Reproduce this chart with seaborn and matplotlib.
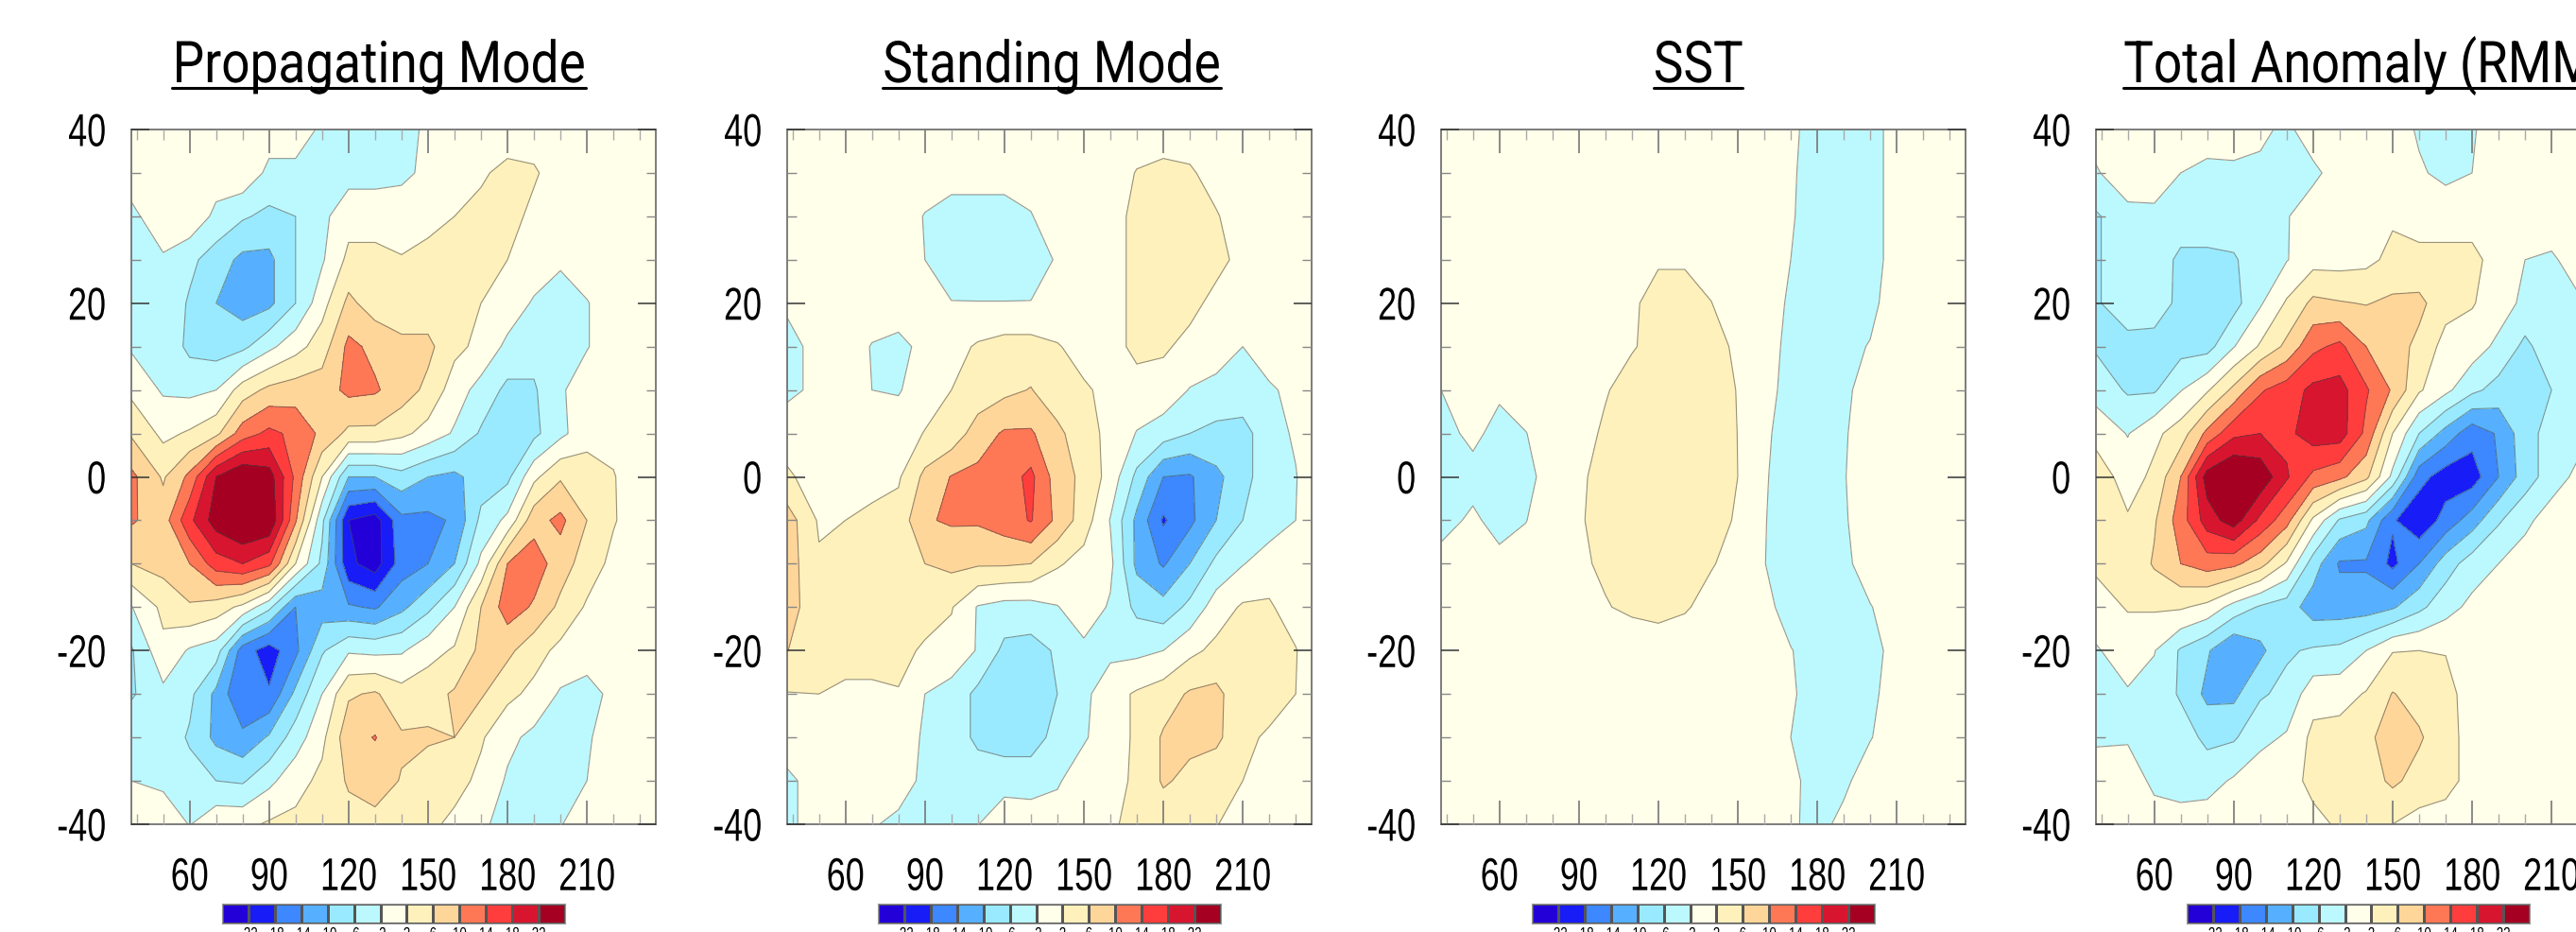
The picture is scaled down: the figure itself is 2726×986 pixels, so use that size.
import matplotlib
matplotlib.use("Agg")
import matplotlib.pyplot as plt
import matplotlib.patheffects as pe
from matplotlib.lines import Line2D
from matplotlib.transforms import Affine2D
import numpy as np
import seaborn as sns

# grid of the fields
LON = [38, 50, 60, 70, 80, 90, 100, 110, 120, 130, 140, 150, 160, 170, 180, 190, 200, 210, 220, 230, 236]
LAT = [40, 35, 30, 25, 20, 15, 10, 5, 0, -5, -10, -15, -20, -25, -30, -35, -40]

PROPAGATING = [
    [0, 0, 0, 0, 0, 0, 1, -3, -3, -3, -3, -1.5, 0, 0, 0, 0, 0, 0, 0, 0, 0],
    [0, 0, 0, 0, 1, -3, -3.5, -3.5, -3.5, -3.5, -3, -1, 1, 1.5, 3, 2.5, 0, 0, 0, 0, 0],
    [-3, 0.5, 1, -3, -5.5, -7, -6, -3, 0.5, 0.5, 0.5, 1, 2, 3, 3.5, 1, 0, 0, 0, 0, 0],
    [-3, -2.5, -5, -8, -11, -11, -6, -2.5, 3, 3, 2.2, 3, 3.5, 3.5, 2, 0.5, -1.5, 0, 0, 0, 0],
    [-3, -3, -6.5, -10, -12, -11, -6, 0.5, 7, 4, 3.5, 3.5, 3, 2, 0.5, -2.5, -3.5, -2.2, 0, 0, 0],
    [-2.5, -3, -7, -8, -7, -3, 0.5, 4, 11, 9, 7, 7, 3, 1, -3, -4.5, -4, -2.2, 0, 0, 0],
    [1, -2.5, -3, -2, 4, 7, 8, 8, 11, 10.5, 8, 5, 0, -3.5, -7, -6.5, -2.5, 0, 0, 0, 0],
    [5.5, 1, 2.5, 5, 12, 15, 13, 9, 5, 5, 3, 0.5, -2.5, -6.5, -8, -7, -3, 0.5, 1, 0, 0],
    [11, 5.5, 11, 22, 26, 24, 13, 2, -10, -10, -7.5, -10, -11, -8, -7, 1, 5.5, 4, 2.2, 0, 0],
    [10.5, 8, 17, 24, 27, 26, 10.5, -5, -22, -24, -15, -15, -13.5, -5, -1, 8.5, 11, 6, 2.3, 0, 0],
    [6, 7.5, 10, 16, 18, 15, 2, -7, -21, -24, -16, -14, -10, -1, 10, 12, 8, 4, 1, 0, 0],
    [-2.2, 3, 5.5, 4, 1, -5, -14, -12, -13.5, -14.5, -11, -7, -2, 6, 12, 9.5, 5, 1.5, 0, 0, 0],
    [-6.5, 1, -2.5, -4, -16, -20, -15, -6.5, -2.5, -3, -2.5, 0.5, 2.5, 7, 7, 3.5, 1, 0, 0, 0, 0],
    [-6.5, -3, -5, -11, -17.8, -17.5, -9, -2, 5.5, 6.5, 3.5, 4.5, 6.5, 6.5, 3, 1, -2.5, -3.5, -1, 0, 0],
    [-3, -3.5, -6.5, -11, -13, -9.5, -4, 1, 8.5, 10.2, 6.5, 6.5, 6, 2.5, -1, -3, -3.5, -2.5, 0, 0, 0],
    [-2, -3, -4.5, -6, -6.5, -3, 0.5, 3, 6.5, 7.5, 5.8, 4, 3.5, 1, -2.5, -3, -3, -2, 0, 0, 0],
    [0.5, 1, -2.2, 1, 1, 2.5, 3, 3.5, 4.5, 5, 4, 3, 1, -1.5, -3, -3, -2.2, 0, 0, 0, 0],
]

STANDING = [
    [0, 0, 0, 0, 0, 0, 0, 0, 0, 0, 0, 0, 0, 0, 0, 0, 0, 0, 0, 0, 0],
    [0, 0, 0, 0, 0, 0, -1, -1, -1, -0.5, 0, 0, 0, 2.2, 3, 2.5, 0.5, 0, 0, 0, 0],
    [0, 0, 0, 0, 0, -2.2, -3, -3, -3, -2.2, 0, 0, 0.5, 3, 3.5, 3.5, 2.3, 0, 0, 0, 0],
    [0, 0, 0, 0, 0, -2, -3.5, -4, -4, -3.5, -1.7, 0, 0.5, 3, 4, 4, 3, 1, 0, 0, 0],
    [-1.5, 0, 0, 0, 0, -1.9, -1.9, -1.9, -1.9, -1.9, -1, 0, 0.5, 3, 4, 3, 1, 0, 0, 0, 0],
    [-3, -1, 0, -2.2, -3, -1, 0.5, 2.5, 3.5, 3.5, 2.3, 0.5, 0.5, 3, 2.5, 1, 0.5, -2, 0, 0, 0],
    [-3, -1, 0, -2, -2.3, 0, 2, 3.5, 5, 6.2, 3.5, 2.5, 1, 0.5, 0.5, -2.2, -3.5, -3.5, -2.5, -1, 0],
    [0.5, 0, 0, 0, 0, 2.2, 3.5, 8, 10.5, 10.5, 7, 3.5, 1, -2.2, -4, -6, -7, -7.5, -3.5, -1.5, 0],
    [2.5, 0.5, 0.5, 0.5, 1.5, 7, 10.2, 11, 12, 15, 8, 5, 0.5, -7, -14, -14.5, -11, -7.5, -3.5, -2.2, 0],
    [8, 1.5, 2, 3, 3.5, 9.6, 10.5, 10.5, 12, 14.3, 9, 4, -2.2, -11, -18.5, -15, -10, -6, -4, -2, 0],
    [8, 2.5, 3, 3.5, 3.5, 6, 7, 6.5, 6.5, 6, 2.5, 0.5, -1, -11, -14.5, -10, -5, -2.2, 0, 0, 0],
    [8, 3, 3.5, 3.5, 3.5, 3.5, 2.3, -2.3, -3.5, -3.5, -2.2, 0.5, -2.5, -7, -8.5, -5, 0, 2.5, 2.5, 0, 0],
    [6.1, 3, 3, 3, 3, 1.5, 0.5, -2.3, -7, -7.5, -5.5, -3, -3, -3, -2, 1, 3, 3.5, 3.5, 2.2, 0],
    [1.8, 2, 1.5, 1.5, 1.8, -2, -3.5, -7, -8.5, -9, -6, -3, 0.5, 2.5, 4, 6.5, 7, 3.5, 3.5, 2, 0],
    [0.5, 0, 0, 0, 0, -2.5, -3.5, -7, -8, -8, -4.5, -2.5, 0.5, 2.5, 6.5, 7, 7, 2.8, 1.5, 0, 0],
    [-3, 0, 0, 0.5, -1, -2.5, -3, -3.5, -3.5, -3.5, -2.5, 0.5, 1, 2.5, 6.5, 5, 3, 2, 0, 0, 0],
    [-2.5, -1, 0, -1.8, -2.5, -2.5, -2.5, -2.1, 0.5, 0, 0, 0, 1.5, 3, 3.5, 3, 2.2, 0, 0, 0, 0],
]

SST = [
    [0, 0, 0, 0, 0, 0, 0, 0, 0, 0, 0, 0, 0, -1.5, -3, -3, -3, -1, 0, 0, 0],
    [0, 0, 0, 0, 0, 0, 0, 0, 0, 0, 0, 0, 0, -1.7, -3, -3, -3, -1, 0, 0, 0],
    [0, 0, 0, 0, 0, 0, 0, 0, 0, 0, 0, 0, 0, -1.8, -3, -3, -3, -1, 0, 0, 0],
    [0, 0, 0, 0, 0, 0, 0, 1, 1.8, 1.8, 1, 0, 0, -2, -3, -3, -3, -1, 0, 0, 0],
    [0, 0, 0, 0, 0, 0, 0, 1.7, 2.7, 2.7, 2.05, 0.5, -1, -2.3, -3, -3, -3, 0, 0, 0, 0],
    [0, 0, 0, 0, 0, 0, 0.5, 1.8, 2.8, 3, 3, 1.5, -1.2, -2.5, -3, -3, -1.8, 0, 0, 0, 0],
    [-2, 0, -1.5, 0, 0, 0.5, 1.8, 3, 3.2, 3.2, 3.2, 1.9, -1.5, -2.5, -3, -2.5, -1, 0, 0, 0, 0],
    [-3, -1.3, -3, -2.1, 0, 1, 2.4, 3, 3.3, 3.3, 3.3, 1.97, -1.6, -3, -3, -2.2, -1, 0, 0, 0, 0],
    [-3.5, -3, -3.5, -3, -0.5, 1.6, 2.8, 3.2, 3.5, 3.5, 3.3, 2, -1.8, -3, -3, -2.1, -1, 0, 0, 0, 0],
    [-3, -1.5, -3, -2.1, 0, 1.7, 3, 3.2, 3.3, 3.3, 3, 1.7, -1.9, -3, -3, -2.2, -1, 0, 0, 0, 0],
    [-1, 0, -1.2, -0.5, 0, 1.5, 2.5, 3, 3, 2.8, 2.2, 1, -1.95, -3, -3, -2.5, -1, 0, 0, 0, 0],
    [0, 0, 0, 0, 0, 0.5, 1.8, 2.6, 3, 2.3, 1, 0, -1.3, -3, -3, -3, -2.1, -1, 0, 0, 0],
    [0, 0, 0, 0, 0, 0, 0, 0, 0.3, 0.3, 0, 0, 0, -1.9, -3, -3, -3, -1, 0, 0, 0],
    [0, 0, 0, 0, 0, 0, 0, 0, 0, 0, 0, 0, 0, -1.7, -3, -3, -2.5, -1, 0, 0, 0],
    [0, 0, 0, 0, 0, 0, 0, 0, 0, 0, 0, 0, 0, -2, -3, -3, -2.1, -1, 0, 0, 0],
    [0, 0, 0, 0, 0, 0, 0, 0, 0, 0, 0, 0, 0, -1.4, -3, -2.4, -1, 0, 0, 0, 0],
    [0, 0, 0, 0, 0, 0, 0, 0, 0, 0, 0, 0, 0, -1.7, -2.6, -1.5, 0, 0, 0, 0, 0],
]

TOTAL = [
    [0, 0, 0, 0, 0, 0.5, -1, -3, 0.5, 0, 0, 0, -2.5, -3, -2.5, 0.5, 0, 0, 0, 0, 0],
    [-2.5, 1, 1.5, -2, -3, -3, -3, -3, -3, 0, 0, 0, -1.5, -3, -2, 0, 0, 0, 0, 0, 0],
    [-6.5, -3.5, -3.5, -3.5, -3.5, -3.5, -3.5, -2.3, 0.5, 0.5, 0.5, 1.5, 0.5, 0.5, 0.5, 0, 0, 0, 0, 0, 0],
    [-6.5, -3.5, -3.5, -7, -7, -6.5, -3.5, -2.2, 0.5, 0.5, 1, 3, 3, 3, 3, 0.5, -2, -2.5, -0.5, 0, 0],
    [-6.5, -3.5, -4, -7, -7.5, -7.5, -2.5, 2.5, 7, 6.3, 5.8, 6.8, 7, 3.5, 2.3, 0, -3, -3.5, -2.5, 0, 0],
    [-6.5, -7.5, -7.5, -7.5, -7.5, -2.2, 2.5, 7, 13, 15, 10, 7.8, 5, 0.5, 0, -3, -7, -3.5, -2.5, 0, 0],
    [-3.5, -6.5, -6.5, -2.2, 1.5, 7, 13.5, 16, 19, 19.5, 14.5, 9.5, 2.5, -1, -5, -7.5, -9, -6, -3.5, -1.5, 0],
    [0.5, -2.2, 1, 4, 11, 17, 18, 17, 20, 20, 13, 2, -6, -11.5, -16.5, -13.5, -7.5, -4.5, -3.5, -1, 0],
    [4.5, 0, 3, 10, 24, 27, 25, 18.5, 13, 11, 7, -3, -16.5, -20, -20, -14, -8, -4, -1, 0, 0],
    [4, 2.5, 5.5, 12, 20, 24, 17, 11.5, 1.2, -6.5, -9, -17.5, -21, -16.5, -12, -6.5, -3, 0, 0, 0, 0],
    [2.5, 2.5, 6.5, 10, 12, 11, 7.5, 1.5, -8, -14.5, -14.5, -19, -14, -8, -4, -2, 0, 0, 0, 0, 0],
    [0.8, 2.2, 2.5, 2.5, 0.8, -3.5, -6.5, -8, -12, -12, -12, -10.5, -7, -3.5, -1, 0, 0, 0, 0, 0, 0],
    [-2.5, 0.5, -1.8, -6.5, -9.5, -14, -11, -6.5, -5.5, -5, -2, 1.8, 2, 1.8, 0, 0, 0, 0, 0, 0, 0],
    [-3, -2.5, -3.5, -6.5, -11, -11, -6.5, -5, 0.5, 0.5, 2.3, 6.2, 4.5, 3.5, 0, 0, 0, 0, 0, 0, 0],
    [-3, -2.5, -3.5, -4, -7, -6.5, -3.2, -1.5, 3, 3.5, 5, 8, 6.5, 3.5, 0.5, 0, 0, 0, 0, 0, 0],
    [1.5, 0.5, -3, -3.5, -3.5, -1.5, 0.5, 0.5, 3, 3.5, 4, 6.8, 4.5, 3.5, 0.5, 0, 0, 0, 0, 0, 0],
    [0, 0, 0, -0.5, 0, 0, 0, 0, 1, 2.5, 2.5, 2, 0.5, 0, 0, 0, 0, 0, 0, 0, 0],
]

TITLES = ["Propagating Mode", "Standing Mode", "SST", "Total Anomaly (RMM)"]
LEVELS = [-22, -18, -14, -10, -6, -2, 2, 6, 10, 14, 18, 22]
COLORS = ["#2400D8", "#181CF7", "#3D87FF", "#56B0FF", "#99EAFF", "#BCF9FF", "#FFFFEA",
          "#FFF1BC", "#FFD699", "#FF7856", "#FF3D3D", "#D8152F", "#A50021"]

W, H = 2726, 987
sns.set_theme(style="ticks")
plt.rcParams["font.family"] = ["Liberation Sans", "DejaVu Sans"]
plt.rcParams["axes.unicode_minus"] = False
plt.rcParams["text.color"] = "black"
plt.rcParams["xtick.labelcolor"] = "black"
plt.rcParams["ytick.labelcolor"] = "black"
palette = sns.color_palette(COLORS)

fig = plt.figure(figsize=(W / 100, H / 100), dpi=100)
panel_left = [139, 833, 1525, 2218]
title_pos = [401, 1113, 1797, None]
TITLE_SQUEEZE = 0.87
LABEL_SQUEEZE = 0.74


class Squeeze(pe.AbstractPathEffect):
    # the reference uses condensed type, none is installed, so narrow the glyphs
    def __init__(self, sx, anchor=0.5):
        super().__init__()
        self.sx = sx
        self.anchor = anchor

    def draw_path(self, renderer, gc, tpath, affine, rgbFace=None):
        ext = tpath.get_extents()
        cx = ext.x0 + self.anchor * ext.width
        narrow = Affine2D().translate(-cx, 0).scale(self.sx, 1).translate(cx, 0)
        renderer.draw_path(gc, tpath, narrow + affine, rgbFace)


def px_axes(x0, x1, y0, y1):
    return fig.add_axes([x0 / W, 1 - y1 / H, (x1 - x0) / W, (y1 - y0) / H])


for left, grid, title, tx in zip(panel_left, [PROPAGATING, STANDING, SST, TOTAL], TITLES, title_pos):
    ax = px_axes(left, left + 555, 138, 873)
    field = np.array(grid)
    ax.contourf(LON, LAT, field, levels=LEVELS, colors=palette, extend="both")
    ax.contour(LON, LAT, field, levels=LEVELS, colors="#444444", linewidths=0.8, alpha=0.55,
               linestyles="solid")
    ax.set_xlim(38, 236)
    ax.set_ylim(-40, 40)
    ax.set_axisbelow(False)

    ax.set_xticks(range(60, 211, 30))
    ax.set_xticks(range(40, 231, 10), minor=True)
    ax.set_yticks(range(-40, 41, 20))
    ax.set_yticks(range(-35, 36, 5), minor=True)
    ax.tick_params(axis="x", which="major", direction="in", top=True, length=18, width=1.2,
                   color="#777777", labelsize=35, pad=25)
    ax.tick_params(axis="x", which="minor", direction="in", top=True, length=8, width=1,
                   color="#aaaaaa")
    ax.tick_params(axis="y", which="major", direction="in", right=True, length=14, width=1.1,
                   color="#333333", labelsize=35, pad=19)
    ax.tick_params(axis="y", which="minor", direction="in", right=True, length=7, width=1,
                   color="#888888")
    for lab in ax.get_xticklabels():
        lab.set_path_effects([Squeeze(LABEL_SQUEEZE, 0.5)])
    for lab in ax.get_yticklabels():
        lab.set_path_effects([Squeeze(LABEL_SQUEEZE, 1.0)])
    for spine in ax.spines.values():
        spine.set_color("#666666")
        spine.set_linewidth(1.2)

    # title with its underline
    if tx is None:
        t = fig.text(2247 / W, 1 - 88 / H, title, ha="left", va="baseline", fontsize=44,
                     fontfamily="Roboto")
        t.set_path_effects([Squeeze(TITLE_SQUEEZE, 0.0)])
        box = t.get_window_extent(fig.canvas.get_renderer())
        x0, x1 = box.x0, box.x0 + box.width * TITLE_SQUEEZE
    else:
        t = fig.text(tx / W, 1 - 88 / H, title, ha="center", va="baseline", fontsize=44,
                     fontfamily="Roboto")
        t.set_path_effects([Squeeze(TITLE_SQUEEZE, 0.5)])
        box = t.get_window_extent(fig.canvas.get_renderer())
        half = box.width * TITLE_SQUEEZE / 2
        x0, x1 = tx - half, tx + half
    fig.add_artist(Line2D([x0 / W, x1 / W], [1 - 94 / H, 1 - 94 / H], color="black", lw=2.2))

    # colour strip below each panel
    cax = px_axes(left + 96, left + 459, 957, 978)
    sns.heatmap(np.arange(len(COLORS)).reshape(1, -1), cmap=palette, cbar=False, ax=cax,
                linewidths=0.8, linecolor="#555555", xticklabels=False, yticklabels=False)
    cax.set_xticks(np.arange(1, len(COLORS)))
    cax.set_xticklabels(LEVELS, fontsize=13)
    cax.tick_params(axis="x", length=0, pad=2.5)
    for lab in cax.get_xticklabels():
        lab.set_path_effects([Squeeze(LABEL_SQUEEZE, 0.5)])
    for spine in cax.spines.values():
        spine.set_visible(True)
        spine.set_color("#999999")
        spine.set_linewidth(0.8)

fig.savefig("out.png", dpi=100)
